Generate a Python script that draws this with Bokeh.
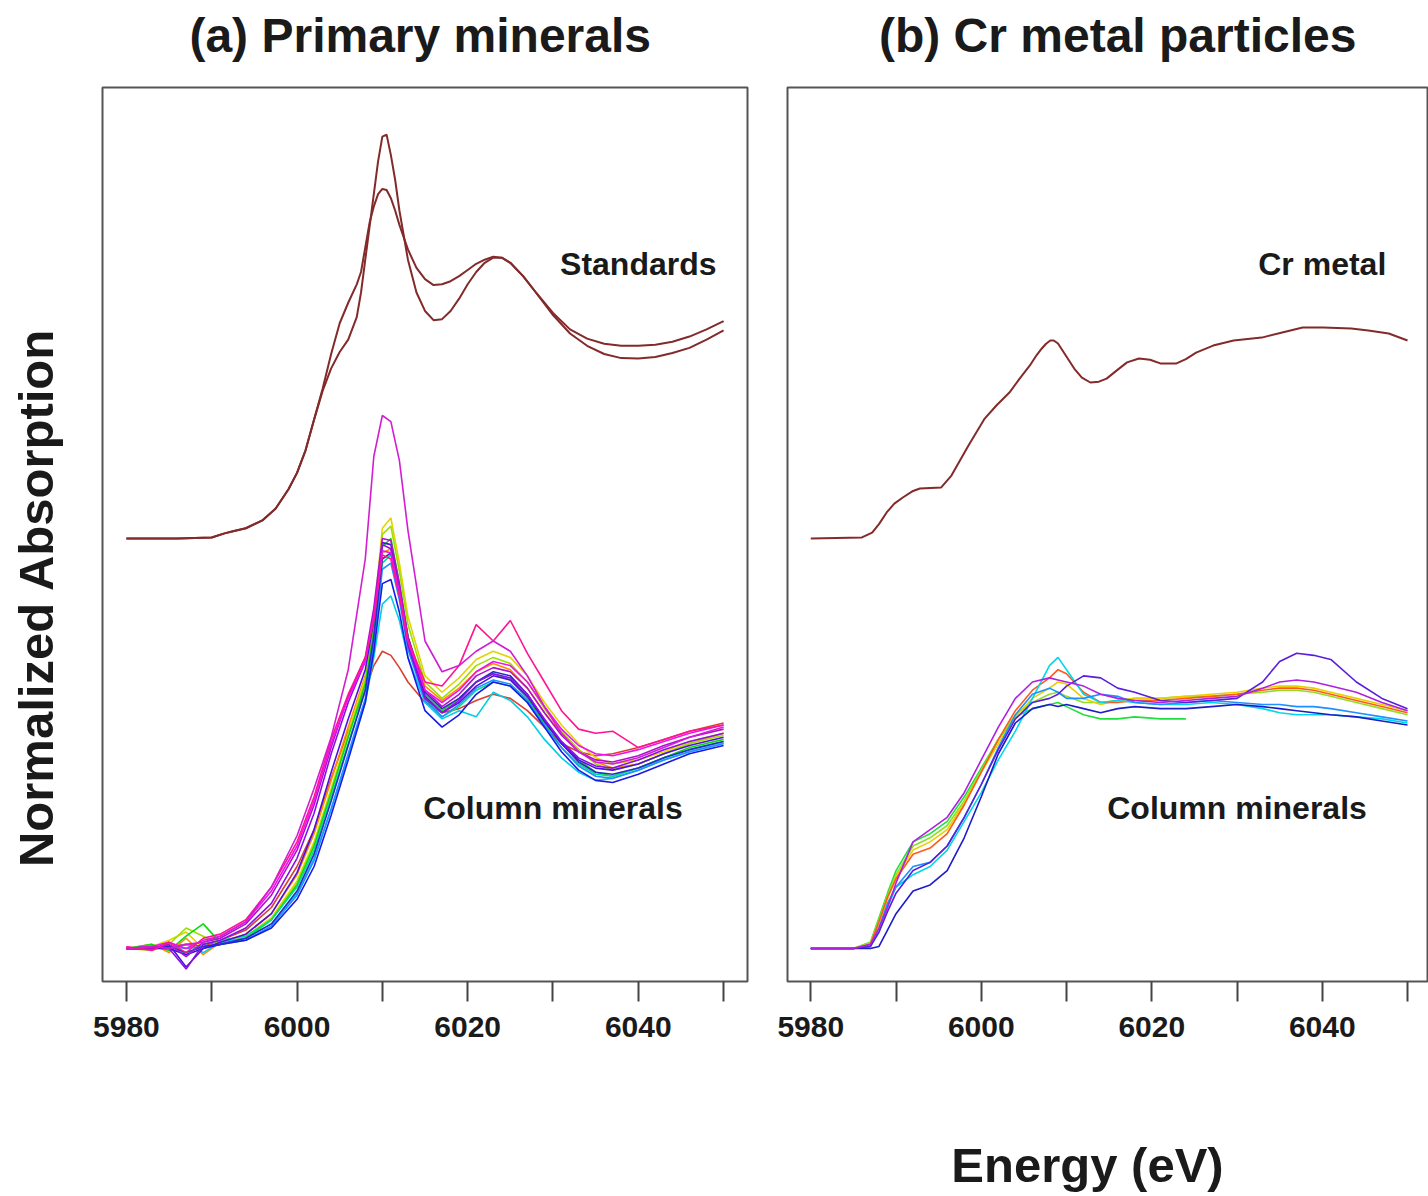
import math
from bokeh.plotting import figure
from bokeh.layouts import row, column
from bokeh.models import FixedTicker, Range1d
from bokeh.core.properties import value
from bokeh.embed import file_html
from bokeh.resources import INLINE

FONT = "Liberation Sans"
NAN = float("nan")

# ---------------- data ----------------
TICKS = [5980, 5990, 6000, 6010, 6020, 6030, 6040, 6050]
TICK_LABELS = ["5980", "", "6000", "", "6020", "", "6040", ""]

TITLE_A = "(a) Primary minerals"
TITLE_B = "(b) Cr metal particles"
Y_LABEL = "Normalized Absorption"
X_LABEL = "Energy (eV)"

# Panel (a) standards (normalized, drawn with a vertical offset)
E_STD = [5980, 5986, 5990, 5991.5, 5992.5, 5994, 5996, 5997.5, 5999, 6000, 6001, 6002,
         6003, 6004, 6005, 6006, 6007, 6007.5, 6008, 6008.5, 6009, 6009.5, 6010,
         6010.5, 6011, 6011.5, 6012, 6013, 6014, 6015, 6016, 6017, 6018, 6019, 6020,
         6021, 6022, 6023, 6024, 6025, 6026.5, 6028, 6030, 6032, 6034, 6036, 6038,
         6040, 6042, 6044, 6046, 6048, 6050]
STD_1 = [0, 0, 0.005, 0.025, 0.035, 0.05, 0.09, 0.146, 0.24, 0.32, 0.43, 0.58,
         0.72, 0.83, 0.91, 0.97, 1.08, 1.2, 1.36, 1.52, 1.68, 1.84, 1.96,
         1.97, 1.87, 1.75, 1.6, 1.36, 1.2, 1.11, 1.065, 1.07, 1.11, 1.17, 1.24,
         1.3, 1.345, 1.37, 1.37, 1.345, 1.28, 1.2, 1.09, 1.0, 0.94, 0.9, 0.88,
         0.878, 0.885, 0.905, 0.93, 0.97, 1.015]
STD_2 = [0, 0, 0.005, 0.025, 0.035, 0.05, 0.09, 0.146, 0.24, 0.32, 0.43, 0.58,
         0.73, 0.9, 1.05, 1.15, 1.24, 1.3, 1.42, 1.54, 1.62, 1.68, 1.705,
         1.7, 1.66, 1.6, 1.53, 1.41, 1.32, 1.265, 1.236, 1.24, 1.255, 1.28, 1.31,
         1.34, 1.36, 1.375, 1.37, 1.345, 1.28, 1.2, 1.1, 1.02, 0.975, 0.95, 0.94,
         0.94, 0.945, 0.96, 0.985, 1.02, 1.06]

# Panel (a) column minerals
E_COL_A = [5980, 5983, 5985, 5987, 5989, 5991, 5994, 5997, 6000, 6002, 6004, 6006,
           6008, 6009, 6010, 6011, 6012, 6013, 6015, 6017, 6019, 6021, 6023, 6025,
           6027, 6029, 6031, 6033, 6035, 6037, 6040, 6043, 6046, 6050]
COL_A_RED = [0, 0, 0.01, 0.02, 0.01, 0.04, 0.09, 0.2, 0.4, 0.58, 0.83, 1.06, 1.26, 1.38, 1.45, 1.43, 1.37, 1.3, 1.2, 1.15, 1.17, 1.21, 1.24, 1.22, 1.16, 1.08, 1.0, 0.96, 0.94, 0.95, 0.98, 1.02, 1.06, 1.1]
COL_A_ORANGE = [0, 0.02, -0.02, 0.05, -0.03, 0.03, 0.07, 0.17, 0.36, 0.56, 0.82, 1.08, 1.33, 1.58, 1.93, 1.95, 1.74, 1.52, 1.28, 1.21, 1.27, 1.35, 1.39, 1.36, 1.27, 1.15, 1.05, 0.97, 0.91, 0.88, 0.9, 0.95, 1.0, 1.05]
COL_A_YELLOW = [0, 0.01, 0.04, 0.08, 0.0, 0.02, 0.06, 0.15, 0.33, 0.52, 0.78, 1.05, 1.32, 1.62, 2.05, 2.1, 1.88, 1.62, 1.33, 1.25, 1.32, 1.41, 1.45, 1.42, 1.33, 1.2, 1.09, 1.0, 0.93, 0.9, 0.92, 0.96, 1.01, 1.05]
COL_A_CHARTREUSE = [0, -0.01, 0.02, 0.1, 0.06, 0.02, 0.05, 0.14, 0.32, 0.51, 0.77, 1.04, 1.3, 1.58, 2.02, 2.06, 1.84, 1.58, 1.3, 1.22, 1.29, 1.38, 1.42, 1.39, 1.3, 1.17, 1.06, 0.97, 0.9, 0.87, 0.9, 0.95, 1.0, 1.04]
COL_A_GREEN = [0, 0.02, -0.01, 0.06, 0.12, 0.03, 0.05, 0.14, 0.31, 0.5, 0.76, 1.03, 1.29, 1.55, 1.96, 2.0, 1.78, 1.52, 1.24, 1.16, 1.22, 1.3, 1.34, 1.31, 1.22, 1.1, 1.0, 0.92, 0.86, 0.84, 0.88, 0.93, 0.98, 1.02]
COL_A_SPRING = [0, 0, 0.03, -0.03, 0.02, 0.04, 0.06, 0.14, 0.3, 0.48, 0.74, 1.0, 1.26, 1.5, 1.88, 1.92, 1.72, 1.48, 1.22, 1.13, 1.18, 1.26, 1.3, 1.28, 1.2, 1.08, 0.98, 0.9, 0.85, 0.84, 0.88, 0.93, 0.97, 1.01]
COL_A_CYAN = [0, 0.01, 0, 0.02, -0.02, 0.03, 0.05, 0.12, 0.27, 0.44, 0.68, 0.94, 1.2, 1.42, 1.68, 1.72, 1.6, 1.42, 1.2, 1.12, 1.16, 1.13, 1.25, 1.21, 1.13, 1.02, 0.93, 0.86, 0.82, 0.83, 0.87, 0.92, 0.96, 1.0]
COL_A_AZURE = [0, 0, 0.01, 0, 0.01, 0.02, 0.04, 0.11, 0.26, 0.43, 0.68, 0.95, 1.22, 1.48, 1.85, 1.88, 1.7, 1.46, 1.21, 1.13, 1.19, 1.27, 1.31, 1.29, 1.21, 1.09, 0.98, 0.89, 0.84, 0.83, 0.87, 0.92, 0.96, 1.0]
COL_A_BLUE = [0, 0, 0, -0.03, 0, 0.02, 0.04, 0.1, 0.24, 0.4, 0.65, 0.92, 1.2, 1.45, 1.78, 1.8, 1.64, 1.42, 1.16, 1.08, 1.14, 1.24, 1.3, 1.28, 1.2, 1.08, 0.96, 0.87, 0.82, 0.81, 0.85, 0.9, 0.95, 0.99]
COL_A_NAVY = [0, 0, 0.01, -0.02, 0.01, 0.02, 0.05, 0.12, 0.28, 0.46, 0.72, 0.99, 1.26, 1.52, 1.9, 1.93, 1.76, 1.52, 1.25, 1.17, 1.22, 1.3, 1.35, 1.33, 1.24, 1.11, 1.0, 0.91, 0.86, 0.85, 0.88, 0.93, 0.97, 1.01]
COL_A_INDIGO = [0, 0, 0.02, -0.09, 0, 0.03, 0.07, 0.17, 0.37, 0.58, 0.86, 1.12, 1.36, 1.6, 1.98, 1.97, 1.76, 1.5, 1.23, 1.15, 1.2, 1.28, 1.33, 1.31, 1.23, 1.11, 1.0, 0.92, 0.88, 0.87, 0.9, 0.95, 0.99, 1.03]
COL_A_PURPLE = [0, 0.01, 0, -0.1, 0.02, 0.04, 0.1, 0.22, 0.44, 0.66, 0.95, 1.2, 1.4, 1.62, 1.97, 1.95, 1.73, 1.48, 1.22, 1.15, 1.21, 1.3, 1.34, 1.32, 1.24, 1.12, 1.01, 0.93, 0.89, 0.88, 0.92, 0.97, 1.01, 1.05]
COL_A_VIOLET = [0, 0, 0.02, -0.04, 0.03, 0.05, 0.12, 0.26, 0.48, 0.7, 0.98, 1.23, 1.42, 1.66, 2.0, 1.99, 1.78, 1.52, 1.26, 1.18, 1.24, 1.33, 1.37, 1.35, 1.27, 1.15, 1.04, 0.96, 0.92, 0.91, 0.94, 0.99, 1.03, 1.07]
COL_A_MAGENTA = [0, 0.01, 0.03, 0, 0.04, 0.06, 0.13, 0.28, 0.5, 0.72, 1.0, 1.22, 1.4, 1.62, 1.94, 1.93, 1.74, 1.5, 1.26, 1.2, 1.26, 1.35, 1.4, 1.38, 1.3, 1.18, 1.07, 0.99, 0.95, 0.94, 0.97, 1.01, 1.05, 1.09]
COL_A_PINK = [0.01, -0.01, 0.03, -0.02, 0.05, 0.07, 0.14, 0.3, 0.52, 0.74, 1.02, 1.24, 1.42, 1.6, 1.92, 1.9, 1.72, 1.5, 1.3, 1.28, 1.38, 1.58, 1.5, 1.6, 1.44, 1.3, 1.16, 1.07, 1.05, 1.06, 0.98, 1.02, 1.06, 1.09]
COL_A_TALL = [0, 0.01, 0, 0.02, 0.03, 0.06, 0.13, 0.3, 0.55, 0.78, 1.03, 1.36, 1.9, 2.4, 2.6, 2.57, 2.38, 2.04, 1.5, 1.35, 1.38, 1.45, 1.5, 1.45, 1.33, 1.18, 1.05, 0.96, 0.91, 0.9, 0.93, 0.98, 1.03, 1.08]

COL_A_SERIES = [COL_A_RED, COL_A_ORANGE, COL_A_YELLOW, COL_A_CHARTREUSE, COL_A_GREEN,
                COL_A_SPRING, COL_A_CYAN, COL_A_AZURE, COL_A_BLUE, COL_A_NAVY,
                COL_A_INDIGO, COL_A_PURPLE, COL_A_VIOLET, COL_A_MAGENTA, COL_A_PINK,
                COL_A_TALL]
COL_A_COLORS = ["#D9402E", "#FF8C00", "#E3D400", "#9BE000", "#10D810", "#00E08A",
                "#00CFE6", "#1E90FF", "#1A1AE6", "#2B2BC8", "#5010E0", "#8A10E6",
                "#B010D0", "#F010F0", "#FF1493", "#D21ED2"]

# Panel (b) Cr metal (normalized, drawn with a vertical offset)
E_CR = [5980, 5986.0, 5987.2, 5988.0, 5988.9, 5989.8, 5990.8, 5992.0, 5992.8, 5995.3,
        5996.5, 5997.5, 5998.5, 6000.4, 6001.8, 6003.3, 6004.5, 6005.7, 6006.5, 6007.1,
        6007.6, 6008.1, 6008.5, 6009.0, 6009.8, 6010.9, 6011.8, 6012.8, 6013.8, 6014.7,
        6015.9, 6017.1, 6018.5, 6019.8, 6021.0, 6022.9, 6024.0, 6025.2, 6027.2, 6029.6,
        6032.9, 6035.3, 6037.7, 6040.1, 6043.4, 6045.4, 6047.8, 6050]
CR_METAL = [0, 0.005, 0.029, 0.07, 0.127, 0.17, 0.2, 0.232, 0.244, 0.249,
            0.307, 0.38, 0.454, 0.585, 0.65, 0.712, 0.78, 0.844, 0.895, 0.927,
            0.95, 0.966, 0.966, 0.951, 0.9, 0.829, 0.785, 0.761, 0.765, 0.78,
            0.82, 0.859, 0.878, 0.872, 0.854, 0.854, 0.875, 0.907, 0.941, 0.966,
            0.98, 1.005, 1.029, 1.029, 1.024, 1.015, 1.0, 0.966]

# Panel (b) column minerals
E_COL_B = [5980, 5985, 5987, 5988, 5989, 5990, 5992, 5994, 5996, 5998, 6000, 6002,
           6004, 6006, 6008, 6009, 6010, 6012, 6014, 6016, 6018, 6021, 6024, 6027,
           6030, 6033, 6035, 6037, 6039, 6041, 6044, 6047, 6050]
COL_B_GREEN = [0, 0, 0.03, 0.15, 0.27, 0.38, 0.52, 0.56, 0.62, 0.74, 0.88, 1.02, 1.13, 1.17, 1.19, 1.2, 1.18, 1.14, 1.12, 1.12, 1.13, 1.12, 1.12, NAN, NAN, NAN, NAN, NAN, NAN, NAN, NAN, NAN, NAN]
COL_B_CHARTREUSE = [0, 0, 0.03, 0.14, 0.26, 0.36, 0.5, 0.54, 0.6, 0.72, 0.87, 1.02, 1.14, 1.2, 1.24, 1.25, 1.23, 1.2, 1.2, 1.21, 1.22, 1.22, 1.23, 1.23, 1.24, 1.25, 1.26, 1.26, 1.25, 1.23, 1.2, 1.17, 1.14]
COL_B_YELLOW = [0, 0, 0.02, 0.12, 0.24, 0.35, 0.48, 0.52, 0.58, 0.71, 0.86, 1.0, 1.13, 1.22, 1.27, 1.3, 1.29, 1.22, 1.19, 1.21, 1.22, 1.22, 1.23, 1.24, 1.25, 1.27, 1.28, 1.28, 1.27, 1.25, 1.22, 1.19, 1.16]
COL_B_ORANGE = [0, 0, 0.02, 0.13, 0.25, 0.34, 0.46, 0.49, 0.56, 0.7, 0.86, 1.02, 1.16, 1.26, 1.32, 1.36, 1.34, 1.25, 1.2, 1.2, 1.21, 1.21, 1.22, 1.23, 1.24, 1.26, 1.27, 1.27, 1.26, 1.24, 1.21, 1.18, 1.15]
COL_B_CYAN = [0, 0, 0.01, 0.08, 0.2, 0.3, 0.36, 0.4, 0.48, 0.62, 0.76, 0.92, 1.06, 1.22, 1.38, 1.42, 1.36, 1.24, 1.2, 1.21, 1.2, 1.19, 1.19, 1.2, 1.19, 1.17, 1.15, 1.14, 1.14, 1.14, 1.13, 1.12, 1.1]
COL_B_AZURE = [0, 0, 0.01, 0.1, 0.22, 0.3, 0.4, 0.42, 0.5, 0.64, 0.8, 0.98, 1.14, 1.24, 1.27, 1.25, 1.22, 1.22, 1.24, 1.23, 1.2, 1.19, 1.2, 1.21, 1.2, 1.19, 1.19, 1.18, 1.18, 1.17, 1.15, 1.13, 1.11]
COL_B_BLUE = [0, 0, 0, 0.01, 0.09, 0.17, 0.28, 0.31, 0.38, 0.54, 0.74, 0.95, 1.1, 1.17, 1.19, 1.18, 1.19, 1.17, 1.15, 1.17, 1.18, 1.17, 1.17, 1.18, 1.19, 1.18, 1.17, 1.16, 1.15, 1.14, 1.13, 1.11, 1.09]
COL_B_INDIGO = [0, 0, 0.01, 0.08, 0.18, 0.27, 0.38, 0.42, 0.5, 0.64, 0.8, 0.97, 1.12, 1.2, 1.22, 1.24, 1.28, 1.33, 1.32, 1.27, 1.25, 1.21, 1.2, 1.21, 1.22, 1.3, 1.4, 1.44, 1.43, 1.41, 1.3, 1.22, 1.17]
COL_B_PURPLE = [0, 0, 0.02, 0.1, 0.2, 0.32, 0.52, 0.58, 0.64, 0.76, 0.92, 1.08, 1.22, 1.3, 1.32, 1.31, 1.3, 1.28, 1.24, 1.22, 1.21, 1.2, 1.21, 1.22, 1.23, 1.27, 1.3, 1.31, 1.3, 1.28, 1.25, 1.2, 1.16]

COL_B_SERIES = [COL_B_GREEN, COL_B_CHARTREUSE, COL_B_YELLOW, COL_B_ORANGE, COL_B_CYAN,
                COL_B_AZURE, COL_B_BLUE, COL_B_INDIGO, COL_B_PURPLE]
COL_B_COLORS = ["#20E040", "#90E020", "#E8D000", "#FF5A1E", "#00D8E8", "#1E90FF",
                "#1C1CC8", "#5A1EDC", "#B020E0"]

# ---------------- styling / layout ----------------
STD_COLOR = "#832A2A"
STD_OFFSET = 2.0
Y_MIN, Y_MAX = -0.161, 4.2
TEXT_COLOR = "#1a1a1a"
TITLE_H = 83
PANEL_H = 968
ROW_H = TITLE_H + PANEL_H


def strip(width, height):
    f = figure(width=width, height=height, x_range=Range1d(0, width),
               y_range=Range1d(0, height), output_backend="svg",
               toolbar_location=None, x_axis_location=None, y_axis_location=None,
               min_border=0, outline_line_color=None)
    f.xgrid.visible = False
    f.ygrid.visible = False
    return f


def strip_text(f, x, y, label, size, angle=0.0):
    f.text(x=[x], y=[y], text=[label], angle=angle, text_font=value(FONT),
           text_font_size=size, text_font_style="bold", text_align="center",
           text_baseline="middle", text_color=TEXT_COLOR)


def make_panel(x0, x1, width, bl, br):
    p = figure(width=width, height=PANEL_H, x_range=Range1d(x0, x1),
               y_range=Range1d(Y_MIN, Y_MAX), output_backend="svg",
               toolbar_location=None, y_axis_location=None,
               min_border_left=bl, min_border_right=br,
               min_border_top=4, min_border_bottom=70)
    p.xgrid.visible = False
    p.ygrid.visible = False
    p.outline_line_color = "#555555"
    p.outline_line_width = 2
    ax = p.xaxis[0]
    ax.ticker = FixedTicker(ticks=TICKS)
    ax.major_label_overrides = {t: l for t, l in zip(TICKS, TICK_LABELS)}
    ax.axis_line_color = None
    ax.major_tick_line_color = "#444444"
    ax.major_tick_line_width = 2
    ax.major_tick_out = 20
    ax.major_tick_in = 0
    ax.minor_tick_line_color = None
    ax.major_label_text_font = FONT
    ax.major_label_text_font_size = "30px"
    ax.major_label_text_font_style = "bold"
    ax.major_label_text_color = TEXT_COLOR
    ax.major_label_standoff = 15
    return p


def add_text(p, x, y, label, size):
    p.text(x=[x], y=[y], text=[label], text_font=value(FONT), text_font_size=size,
           text_font_style="bold", text_align="center", text_baseline="middle",
           text_color=TEXT_COLOR)


# Panel (a)
pa = make_panel(5977.2, 6052.8, 675, 10, 20)
for vals, col in zip(COL_A_SERIES, COL_A_COLORS):
    pa.line(E_COL_A, vals, line_color=col, line_width=1.6)
pa.line(E_STD, [v + STD_OFFSET for v in STD_1], line_color=STD_COLOR, line_width=2)
pa.line(E_STD, [v + STD_OFFSET for v in STD_2], line_color=STD_COLOR, line_width=2)
add_text(pa, 6040, 3.337, "Standards", "32px")
add_text(pa, 6030, 0.683, "Column minerals", "32px")

# Panel (b)
pb = make_panel(5977.27, 6052.46, 661, 20, 0)
for vals, col in zip(COL_B_SERIES, COL_B_COLORS):
    pb.line(E_COL_B, vals, line_color=col, line_width=1.6)
pb.line(E_CR, [v + STD_OFFSET for v in CR_METAL], line_color=STD_COLOR, line_width=2)
add_text(pb, 6040, 3.337, "Cr metal", "32px")
add_text(pb, 6030, 0.683, "Column minerals", "32px")

# Titles
ta = strip(675, TITLE_H)
strip_text(ta, 332.5, TITLE_H - 35, TITLE_A, "48px")
tb = strip(661, TITLE_H)
strip_text(tb, 340.5, TITLE_H - 35, TITLE_B, "48px")

# Y label strip
ylab = strip(92, ROW_H)
strip_text(ylab, 35, ROW_H - 597, Y_LABEL, "49px", angle=math.pi / 2)

# X label strip
XL_H = 142
xlab = strip(1428, XL_H)
strip_text(xlab, 1087, XL_H - 113, X_LABEL, "49px")

layout = column(row(ylab, column(ta, pa), column(tb, pb)), xlab)
open("out.html", "w").write(file_html(layout, INLINE))
